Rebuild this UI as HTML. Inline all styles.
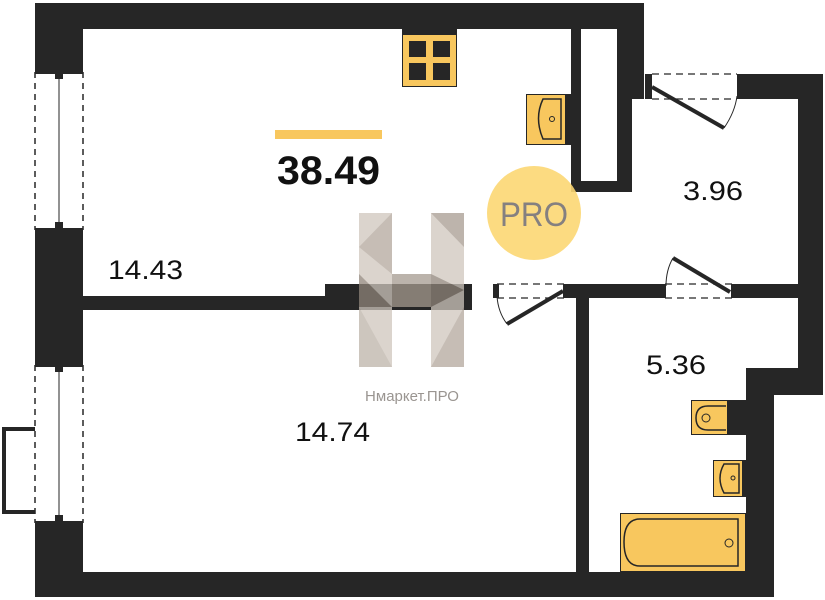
<!DOCTYPE html>
<html><head><meta charset="utf-8"><style>
html,body{margin:0;padding:0;background:#fff;width:825px;height:600px;overflow:hidden}
svg{display:block}
</style></head><body>
<svg width="825" height="600" viewBox="0 0 825 600" xmlns="http://www.w3.org/2000/svg">
<g fill="#262626">
<rect x="35" y="3" width="609" height="26"/>
<rect x="35" y="3" width="48" height="67"/>
<rect x="35" y="232" width="48" height="131"/>
<rect x="35" y="525" width="48" height="72"/>
<rect x="35" y="572" width="739" height="25"/>
<rect x="571" y="29" width="61" height="163"/>
<rect x="617" y="3" width="27" height="96"/>
<rect x="742" y="74" width="81" height="25"/>
<rect x="798" y="74" width="25" height="321"/>
<rect x="746" y="368" width="77" height="27"/>
<rect x="746" y="368" width="28" height="229"/>
<rect x="83" y="296" width="245" height="14"/>
<rect x="325" y="284" width="147" height="26"/>
<rect x="567" y="284" width="96" height="14"/>
<rect x="576" y="284" width="13" height="288"/>
<rect x="733" y="284" width="67" height="14"/>
</g>
<rect x="581" y="29" width="36" height="152" fill="#fff"/>
<g stroke="#262626" fill="none">
<line x1="35" y1="72" x2="35" y2="230" stroke-width="1.5" stroke-dasharray="6,5"/>
<line x1="83" y1="72" x2="83" y2="230" stroke-width="1.5" stroke-dasharray="6,5"/>
<line x1="59" y1="75" x2="59" y2="228" stroke-width="1"/>
<line x1="35" y1="365" x2="35" y2="523" stroke-width="1.5" stroke-dasharray="6,5"/>
<line x1="83" y1="365" x2="83" y2="523" stroke-width="1.5" stroke-dasharray="6,5"/>
<line x1="59" y1="368" x2="59" y2="520" stroke-width="1"/>
<polyline points="35,429 4,429 4,512 35,512" stroke-width="4"/>
</g>
<g fill="#262626">
<rect x="35" y="70" width="48" height="4"/><rect x="55" y="73" width="8" height="6"/>
<rect x="35" y="228" width="48" height="4"/><rect x="55" y="222" width="8" height="6"/>
<rect x="35" y="363" width="48" height="4"/><rect x="55" y="366" width="8" height="6"/>
<rect x="35" y="521" width="48" height="4"/><rect x="55" y="515" width="8" height="6"/>
</g>
<g stroke="#262626" fill="none">
<line x1="652" y1="74" x2="737" y2="74" stroke-width="1.2" stroke-dasharray="7,5"/>
<line x1="652" y1="99" x2="737" y2="99" stroke-width="1.2" stroke-dasharray="7,5"/>
<line x1="652" y1="87" x2="724" y2="128" stroke-width="4"/>
<path d="M724,128 Q735,112 737,96" stroke-width="1"/>
<line x1="497" y1="284" x2="565" y2="284" stroke-width="1.2" stroke-dasharray="7,5"/>
<line x1="497" y1="298" x2="565" y2="298" stroke-width="1.2" stroke-dasharray="7,5"/>
<line x1="563" y1="291" x2="507" y2="324" stroke-width="4"/>
<path d="M507,324 Q498,312 497,296" stroke-width="1"/>
<line x1="665" y1="284" x2="733" y2="284" stroke-width="1.2" stroke-dasharray="7,5"/>
<line x1="665" y1="298" x2="733" y2="298" stroke-width="1.2" stroke-dasharray="7,5"/>
<line x1="730" y1="292" x2="673" y2="258" stroke-width="4"/>
<path d="M673,258 Q666,270 666,286" stroke-width="1"/>
</g>
<g fill="#262626">
<rect x="645" y="74" width="7" height="25"/><rect x="737" y="74" width="6" height="25"/>
<rect x="493" y="284" width="6" height="14"/><rect x="563" y="284" width="6" height="14"/>
<rect x="660" y="284" width="6" height="14"/><rect x="731" y="284" width="6" height="14"/>
</g>
<rect x="402.5" y="29.5" width="54" height="57" fill="#f8c75e" stroke="#262626"/>
<rect x="402" y="29" width="55" height="6" fill="#262626"/>
<g fill="#262626">
<rect x="409" y="41" width="17" height="16"/><rect x="433" y="41" width="17" height="16"/>
<rect x="409" y="63" width="17" height="17"/><rect x="433" y="63" width="17" height="17"/>
</g>
<rect x="526.5" y="94.5" width="39" height="50" fill="#f8c75e" stroke="#262626"/>
<rect x="565" y="94" width="7" height="51" fill="#262626"/>
<path d="M561,99 L543,99 Q534,118 543,139 L561,139 Z" fill="none" stroke="#262626" stroke-width="1.5"/>
<circle cx="552" cy="119" r="2.5" fill="none" stroke="#262626"/>
<rect x="691.5" y="400.5" width="36" height="34" fill="#f8c75e" stroke="#262626"/>
<rect x="727" y="400" width="19" height="35" fill="#262626"/>
<path d="M726,406 L708,406 Q696,406 696,418 Q696,430 708,430 L726,430" fill="none" stroke="#262626" stroke-width="1.5"/>
<circle cx="706" cy="418" r="4" fill="none" stroke="#262626"/>
<rect x="713.5" y="460.5" width="29" height="36" fill="#f8c75e" stroke="#262626"/>
<rect x="742" y="460" width="4" height="37" fill="#262626"/>
<path d="M739,464 L724,464 Q716,478 724,493 L739,493 Z" fill="none" stroke="#262626" stroke-width="1.5"/>
<circle cx="733" cy="478" r="2" fill="none" stroke="#262626"/>
<rect x="620.5" y="513.5" width="125" height="58" fill="#f8c75e" stroke="#262626"/>
<path d="M738,519 L640,519 Q624,519 624,542 Q624,566 640,566 L738,566 Z" fill="none" stroke="#262626" stroke-width="1.5"/>
<circle cx="729" cy="543" r="4" fill="none" stroke="#262626"/>
<circle cx="534" cy="213" r="47" fill="#fcd773" opacity="0.9"/>
<text x="534" y="226" font-family="Liberation Sans, sans-serif" font-size="34" fill="#858080" text-anchor="middle" textLength="68" lengthAdjust="spacingAndGlyphs">PRO</text>
<g opacity="0.75">
<rect x="359" y="213" width="33" height="154" fill="#cfc6bd"/>
<rect x="431" y="213" width="33" height="154" fill="#cfc6bd"/>
<rect x="392" y="274" width="39" height="33" fill="#a59a8f"/>
<polygon points="392,213 359,247 392,274" fill="#b3a89d"/>
<polygon points="431,213 464,247 464,213" fill="#a79c91"/>
<polygon points="359,307 392,367 359,367" fill="#bdb3a9"/>
<polygon points="464,307 431,367 464,367" fill="#b3a89d"/>
<polygon points="359,274 392,307 359,307" fill="#8f8479"/>
<polygon points="431,274 464,290 431,307" fill="#8f8479"/>
</g>
<text x="412" y="401" font-family="Liberation Sans, sans-serif" font-size="15" fill="#9a9591" text-anchor="middle">Нмаркет.ПРО</text>
<rect x="275" y="130" width="107" height="9" fill="#f8c75e"/>
<text x="277" y="184" font-family="Liberation Sans, sans-serif" font-size="40" font-weight="bold" fill="#111" textLength="103" lengthAdjust="spacingAndGlyphs">38.49</text>
<text x="108" y="279" font-family="Liberation Sans, sans-serif" font-size="27" fill="#111" textLength="75" lengthAdjust="spacingAndGlyphs">14.43</text>
<text x="295" y="441" font-family="Liberation Sans, sans-serif" font-size="27" fill="#111" textLength="75" lengthAdjust="spacingAndGlyphs">14.74</text>
<text x="683" y="200" font-family="Liberation Sans, sans-serif" font-size="27" fill="#111" textLength="60" lengthAdjust="spacingAndGlyphs">3.96</text>
<text x="646" y="374" font-family="Liberation Sans, sans-serif" font-size="27" fill="#111" textLength="60" lengthAdjust="spacingAndGlyphs">5.36</text>
</svg>
</body></html>
